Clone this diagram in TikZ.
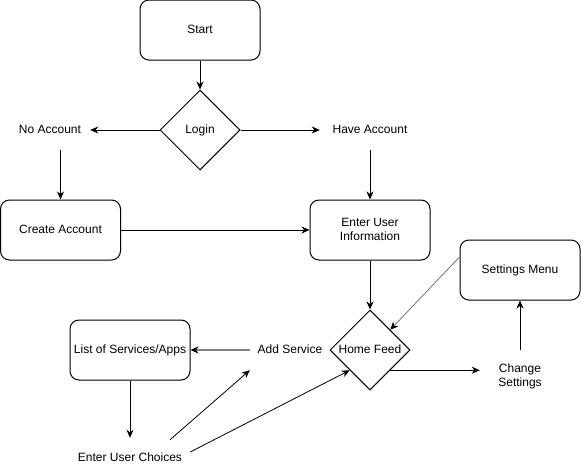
\documentclass[tikz,border=0pt]{standalone}
\usepackage{fontspec}
\setmainfont{Liberation Sans}
\usetikzlibrary{shapes.geometric,arrows.meta}
\begin{document}
\begin{tikzpicture}[x=1pt,y=-1pt,
  every node/.style={font=\fontsize{12}{14}\selectfont,text height=9pt,text depth=3pt},
  twolines/.style={text height=23pt,text depth=3pt},
  box/.style={draw,line width=1pt,rounded corners=9pt,minimum width=120pt,minimum height=60pt,inner sep=0pt,align=center},
  decision/.style={draw,line width=1pt,diamond,aspect=1,minimum width=80pt,minimum height=80pt,inner sep=0pt},
  label/.style={inner sep=0pt,align=center},
  arr/.style={line width=1pt,-{Stealth[length=8pt,width=7pt,inset=2.5pt]}},
  grayarr/.style={line width=1.6pt,draw=black!50,-{Stealth[length=8pt,width=7pt,inset=2.5pt,color=black]}},
  thinarr/.style={line width=0.7pt,draw=black!60,-{Stealth[length=8pt,width=7pt,inset=2.5pt,color=black]}},
  slimarr/.style={line width=0.8pt,-{Stealth[length=8pt,width=7pt,inset=2.5pt]}}]
\useasboundingbox (0,0) rectangle (581,471);

% boxes and decisions
\node[box] (start) at (200,30) {Start};
\node[decision] (login) at (200,130) {Login};
\node[box] (create) at (60.5,230) {Create Account};
\node[box,twolines] (enter) at (370,230) {Enter User\\Information};
\node[box] (settings) at (520,270) {Settings Menu};
\node[box] (list) at (130,350) {List of Services/Apps};
\node[decision] (home) at (370,350) {Home Feed};

% free text labels
\node[label,minimum width=80pt,minimum height=40pt] (noacc) at (50,130) {No Account};
\node[label,minimum width=100pt,minimum height=40pt] (haveacc) at (370,130) {Have Account};
\node[label,minimum width=80pt,minimum height=40pt] (addsvc) at (290,350) {Add Service};
\node[label,twolines,minimum width=80pt,minimum height=52pt] (change) at (520,376) {Change\\Settings};
\node[label,minimum width=120pt,minimum height=40pt] (choices) at (130,458) {Enter User Choices};

% connectors
\draw[arr] (start.south) -- (login.north);
\draw[arr] (login.west) -- (noacc.east);
\draw[arr] (login.east) -- (haveacc.west);
\draw[arr] (noacc.south -| create.north) -- (create.north);
\draw[arr] (haveacc.south) -- (enter.north);
\draw[arr] (create.east) -- (enter.west);
\draw[arr] (enter.south) -- (home.north);
\draw[thinarr] ([yshift=13pt]settings.west) -- (home.north east);
\draw[arr] (home.south east) -- (home.south east -| change.west);
\draw[arr] (change.north) -- (settings.south);
\draw[grayarr] (addsvc.west) -- (list.east);
\draw[arr] (list.south) -- (choices.north);
\draw[slimarr] ([xshift=40pt,yshift=-2pt]choices.north) -- (addsvc.south west);
\draw[slimarr] ([yshift=6pt]choices.east) -- (home.south west);
\end{tikzpicture}
\end{document}
